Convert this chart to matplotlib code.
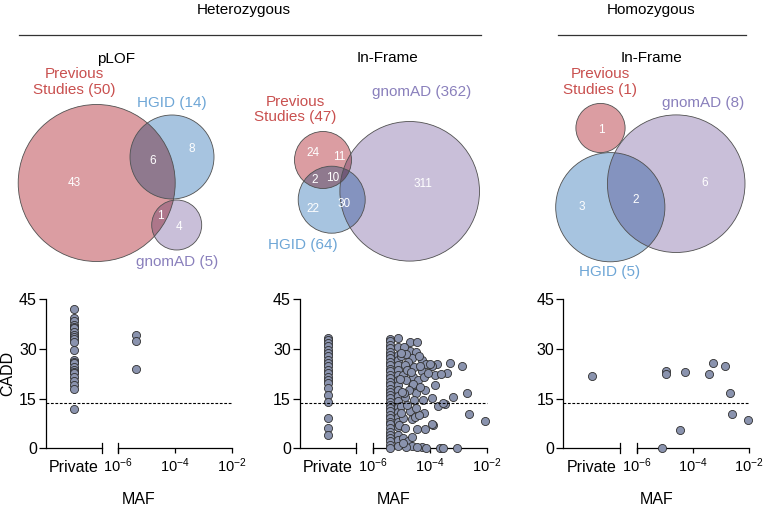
import numpy as np
import matplotlib.pyplot as plt
from matplotlib.patches import Circle, Polygon
from matplotlib.ticker import FixedLocator, FuncFormatter, NullLocator
import matplotlib.transforms as mtransforms

plt.rcParams['font.family'] = ['Liberation Sans', 'DejaVu Sans']
plt.rcParams['mathtext.fontset'] = 'custom'
plt.rcParams['mathtext.rm'] = 'Liberation Sans'
plt.rcParams['mathtext.it'] = 'Liberation Sans:italic'
plt.rcParams['mathtext.bf'] = 'Liberation Sans:bold'

# ---------------- data ----------------
# venn totals per panel
plof_totals = {'Previous': 50, 'HGID': 14, 'gnomAD': 5}
inframe_het_totals = {'Previous': 47, 'HGID': 64, 'gnomAD': 362}
inframe_hom_totals = {'Previous': 1, 'HGID': 5, 'gnomAD': 8}

# venn region counts
plof_regions = [43, 6, 8, 1, 4]
inframe_het_regions = [24, 11, 2, 10, 22, 30, 311]
inframe_hom_regions = [1, 3, 2, 6]

# CADD scores, private variants
plof_private = [42.0, 39.3, 38.3, 37.2, 36.5, 36.2, 35.2, 34.2, 33.5, 32.9, 32.0,
                29.7, 26.7, 26.0, 25.6, 24.6, 23.7, 23.0, 22.7, 21.5, 20.4, 19.0,
                17.9, 11.8]
inframe_het_private = [33.2, 32.5, 31.7, 30.9, 29.7, 28.7, 27.7, 26.7, 25.7, 24.7,
                       23.7, 22.6, 21.6, 20.6, 19.6, 18.1, 16.1, 14.1, 9.1, 6.0, 4.0]
inframe_hom_private = [21.8]

# MAF / CADD, variants seen in gnomAD
plof_maf = [4.3e-6, 4.3e-6, 4.3e-6]
plof_cadd = [34.0, 32.2, 23.9]

het_col1_cadd = [33.0, 32.2, 31.0, 30.1, 29.0, 28.1, 27.2, 26.0, 25.1, 24.0, 23.2,
                 22.0, 21.1, 20.0, 19.2, 18.0, 17.1, 16.0, 15.2, 14.0, 13.1, 12.0,
                 11.2, 10.0, 9.1, 8.0, 7.2, 6.1, 5.0, 4.1, 3.0, 2.2, 1.1, 0.0]
het_col2_cadd = [33.2, 30.5, 28.0, 26.5, 25.0, 23.5, 22.1, 20.5, 19.0, 17.6, 15.8,
                 14.2, 12.5, 11.0, 9.5, 8.0, 6.5, 4.1, 2.5, 0.8]
het_other_maf = [2.0e-5, 3.5e-5, 2.0e-5, 3.2e-5, 1.0e-5, 2.3e-5, 5.1e-5, 7.6e-5, 1.75e-4,
                 5.0e-4, 1.3e-3, 1.15e-4, 5.1e-5, 3.9e-4, 1.5e-4, 1.15e-5, 2.6e-5, 1.5e-5,
                 3.9e-5, 1.5e-4, 2.3e-5, 6.6e-5, 3.2e-5, 1.95e-3, 6.6e-4, 1.35e-5, 1.15e-4,
                 5.9e-5, 3.4e-4, 1.95e-4, 1.0e-5, 2.0e-5, 6.3e-5, 2.35e-3, 8.9e-3, 1.15e-5,
                 2.3e-5, 8.5e-6, 1.3e-4, 3.5e-5, 6.6e-5, 1.15e-5, 1.75e-5, 2.3e-5, 5.1e-5,
                 3.5e-5, 2.2e-4, 2.95e-4, 9.3e-4, 7.6e-5, 1.15e-4, 1.2e-5, 1.4e-5, 1.7e-5,
                 1.3e-5, 2.8e-5, 1.6e-5, 2.1e-5, 4.4e-5, 2.5e-5, 1.8e-5, 4.5e-5, 1.2e-5,
                 2.7e-5, 1.6e-5, 3.0e-5, 1.3e-5, 4.0e-5, 2.4e-5, 1.5e-5, 9.5e-6, 9.0e-6,
                 1.05e-5, 9.5e-6, 1.1e-5, 3.3e-5, 6.0e-5, 8.5e-5, 1.0e-4, 2.4e-4, 4.2e-5,
                 2.95e-4]
het_other_cadd = [32.0, 32.0, 29.2, 28.9, 27.7, 27.2, 26.7, 25.5, 25.4,
                  25.7, 24.7, 24.7, 23.2, 22.6, 22.1, 22.1, 21.6, 20.6,
                  20.6, 19.1, 18.8, 17.6, 16.6, 16.6, 15.6, 15.4, 15.1,
                  14.6, 13.4, 12.9, 12.6, 11.1, 10.6, 10.2, 8.3, 9.1,
                  8.8, 7.1, 7.1, 5.8, 5.8, 3.1, 2.1, 0.6, 0.3,
                  0.3, 0.2, 0.2, 0.2, 0.2, 7.3, 30.5, 28.5, 26.0,
                  25.0, 24.5, 23.5, 23.0, 24.8, 19.5, 17.5, 18.5, 16.8,
                  14.5, 13.0, 9.5, 6.0, 10.0, 3.5, 0.3, 28.8, 21.0,
                  17.0, 10.5, 1.5, 12.0, 21.5, 22.8, 25.3, 22.3, 27.8,
                  13.6]
het_col1_maf = 3.9e-6
het_col2_maf = 7.5e-6

hom_maf = [1.15e-5, 1.15e-5, 5.1e-5, 3.7e-4, 5.1e-4, 1.45e-3, 2.1e-3, 2.4e-3, 9.5e-3,
           3.5e-5, 7.9e-6]
hom_cadd = [23.4, 22.4, 23.1, 22.4, 25.7, 24.9, 16.6, 10.4, 8.4, 5.4, 0.2]

cadd_cutoff = 13.8
cadd_ticks = [0, 15, 30, 45]
maf_ticks = [1e-6, 1e-4, 1e-2]

# ---------------- style / layout ----------------
W, H = 763, 507
light = {'Previous': (219, 157, 162), 'HGID': (167, 196, 224), 'gnomAD': (201, 191, 217)}
label_col = {'Previous': '#C9504F', 'HGID': '#6EA6D6', 'gnomAD': '#8A80BC'}
point_fc = '#8A93AE'


def rgb(c):
    return tuple(v / 255 for v in c)


def mult(*names):
    out = np.ones(3)
    for n in names:
        out *= np.array(rgb(light[n]))
    return tuple(out)


fig = plt.figure(figsize=(W / 100, H / 100), dpi=100)
axv = fig.add_axes([0, 0, 1, 1])
axv.set_xlim(0, W)
axv.set_ylim(H, 0)
axv.axis('off')

# headers
axv.text(244, 10, 'Heterozygous', ha='center', va='center', fontsize=11)
axv.text(651, 10, 'Homozygous', ha='center', va='center', fontsize=11)
axv.plot([18.5, 480.5], [35, 35], color='#333333', lw=0.9)
axv.plot([557.6, 746.3], [35, 35], color='#333333', lw=0.9)
for x, t in [(115.6, 'pLOF'), (388, 'In-Frame'), (651, 'In-Frame')]:
    axv.text(x, 58.5, t, ha='center', va='center', fontsize=11)


def lens(c1, c2, n=720):
    t = np.linspace(0, 2 * np.pi, n)
    pts = []
    for a, b in [(c1, c2), (c2, c1)]:
        p = np.c_[a[0] + a[2] * np.cos(t), a[1] + a[2] * np.sin(t)]
        inside = np.hypot(p[:, 0] - b[0], p[:, 1] - b[1]) <= b[2]
        pts.append(p[inside])
    pts = np.vstack(pts)
    cen = pts.mean(axis=0)
    order = np.argsort(np.arctan2(pts[:, 1] - cen[1], pts[:, 0] - cen[0]))
    return pts[order]


def draw_venn(circles, totals, labels, regions, counts):
    patches = {}
    for name, (cx, cy, r) in circles.items():
        p = Circle((cx, cy), r, fc=rgb(light[name]), ec='none', zorder=1)
        axv.add_patch(p)
        patches[name] = p
    names = list(circles)
    for i in range(len(names)):
        for j in range(i + 1, len(names)):
            a, b = circles[names[i]], circles[names[j]]
            if np.hypot(a[0] - b[0], a[1] - b[1]) < a[2] + b[2] - 1:
                q = Circle(b[:2], b[2], fc=mult(names[i], names[j]), ec='none', zorder=2)
                axv.add_patch(q)
                q.set_clip_path(patches[names[i]])
    if len(names) == 3:
        a, b, c = (circles[n] for n in names)
        lp = lens(a, b)
        d = np.hypot(lp[:, 0] - c[0], lp[:, 1] - c[1])
        if (d < c[2]).any():
            q = Polygon(lp, closed=True, fc=mult(*names), ec='none', zorder=3)
            axv.add_patch(q)
            q.set_clip_path(patches[names[2]])
    for name, (cx, cy, r) in circles.items():
        axv.add_patch(Circle((cx, cy), r, fill=False, ec='#505050', lw=0.6, zorder=4))
    for name, (x, y, txt) in labels.items():
        axv.text(x, y, txt.format(totals[name]), ha='center', va='center',
                 fontsize=11, color=label_col[name], linespacing=1.15)
    for (x, y), n in zip(regions, counts):
        axv.text(x, y, str(n), ha='center', va='center', fontsize=8.5, color='white', zorder=5)


draw_venn({'Previous': (96.7, 183, 78.5), 'HGID': (172, 157, 42), 'gnomAD': (176.7, 225, 25)},
          plof_totals,
          {'Previous': (74, 82, 'Previous\nStudies ({})'), 'HGID': (171.7, 102.7, 'HGID ({})'),
           'gnomAD': (176.7, 261.7, 'gnomAD ({})')},
          [(74, 183.3), (152.3, 161), (191.7, 149.3), (160, 216), (179, 226.7)], plof_regions)

draw_venn({'Previous': (323, 160, 28.5), 'HGID': (331.7, 199.7, 33.5), 'gnomAD': (409.7, 191.3, 69.8)},
          inframe_het_totals,
          {'Previous': (295, 109.5, 'Previous\nStudies ({})'), 'HGID': (303.3, 245, 'HGID ({})'),
           'gnomAD': (421.7, 92.3, 'gnomAD ({})')},
          [(312.7, 153.3), (339, 157.3), (315, 180), (332.7, 178.3), (312.7, 209.3), (344, 204),
           (422.7, 184)], inframe_het_regions)

draw_venn({'Previous': (600.5, 128, 24.6), 'HGID': (610.3, 207.2, 54.6), 'gnomAD': (676.2, 183.7, 68.8)},
          inframe_hom_totals,
          {'Previous': (600, 82, 'Previous\nStudies ({})'), 'HGID': (609.3, 271.7, 'HGID ({})'),
           'gnomAD': (703.3, 102.7, 'gnomAD ({})')},
          [(601, 130), (581.7, 207.3), (636, 200), (704.3, 183.3)], inframe_hom_regions)

# ---------------- scatter panels ----------------
y0_px, y45_px = 448.3, 299.0
bottom = (H - y0_px) / H
height = (y0_px - y45_px) / H


def mafpanel(x0, x1, x2, x3, private, maf, cadd, ylabel=False):
    axp = fig.add_axes([x0 / W, bottom, (x1 - x0) / W, height])
    axl = fig.add_axes([x2 / W, bottom, (x3 - x2) / W, height])
    kw = dict(s=34, fc=point_fc, ec='#2e2e2e', lw=0.6, clip_on=False, zorder=5)
    axp.scatter(np.full(len(private), 0.5), private, **kw)
    axl.scatter(maf, cadd, **kw)
    axl.set_xscale('log')
    for ax in (axp, axl):
        ax.set_ylim(0, 45)
        ax.patch.set_visible(False)
        for s in ('top', 'right'):
            ax.spines[s].set_visible(False)
        for s in ('left', 'bottom'):
            ax.spines[s].set_linewidth(0.9)
    axp.set_xlim(0, 1)
    axp.set_xticks([0.5])
    axp.set_xticklabels(['Private'])
    axp.tick_params(axis='x', length=0, pad=8.5, labelsize=11.5)
    axp.set_yticks(cadd_ticks)
    axp.tick_params(axis='y', length=5, width=0.9, pad=1.5, labelsize=11.5)
    axl.set_xlim(maf_ticks[0], maf_ticks[-1])
    axl.spines['left'].set_visible(False)
    axl.set_yticks([])
    axl.xaxis.set_major_locator(FixedLocator(maf_ticks))
    axl.xaxis.set_minor_locator(NullLocator())
    axl.xaxis.set_major_formatter(FuncFormatter(lambda v, p: r'$10^{%d}$' % round(np.log10(v))))
    axl.tick_params(axis='x', length=3.5, width=0.9, pad=2, labelsize=10.5)
    # break marks
    for ax, xb in ((axp, 1), (axl, 0)):
        ax.plot([xb, xb], [-0.034, 0.034], transform=ax.transAxes, color='black',
                lw=0.9, clip_on=False)
    # cutoff line across both segments
    tr = mtransforms.blended_transform_factory(fig.transFigure, axp.transData)
    fig.add_artist(plt.Line2D([x0 / W, x3 / W], [cadd_cutoff, cadd_cutoff], transform=tr,
                              color='black', lw=0.8, ls=(0, (2.5, 1.5))))
    fig.text((x0 + x3) / 2 / W, 1 - 499 / H, 'MAF', ha='center', va='center', fontsize=11.5)
    if ylabel:
        fig.text(7.5 / W, 1 - 373.6 / H, 'CADD', rotation=90, ha='center', va='center',
                 fontsize=11.5)
    return axp, axl


mafpanel(46, 102, 118, 232, plof_private, plof_maf, plof_cadd, ylabel=True)
het_maf = [het_col1_maf] * len(het_col1_cadd) + [het_col2_maf] * len(het_col2_cadd) + het_other_maf
het_cadd = het_col1_cadd + het_col2_cadd + het_other_cadd
mafpanel(300, 355.7, 373, 486.7, inframe_het_private, het_maf, het_cadd)
mafpanel(563.3, 620, 636.7, 749, inframe_hom_private, hom_maf, hom_cadd)

fig.savefig('out.png', dpi=100)
